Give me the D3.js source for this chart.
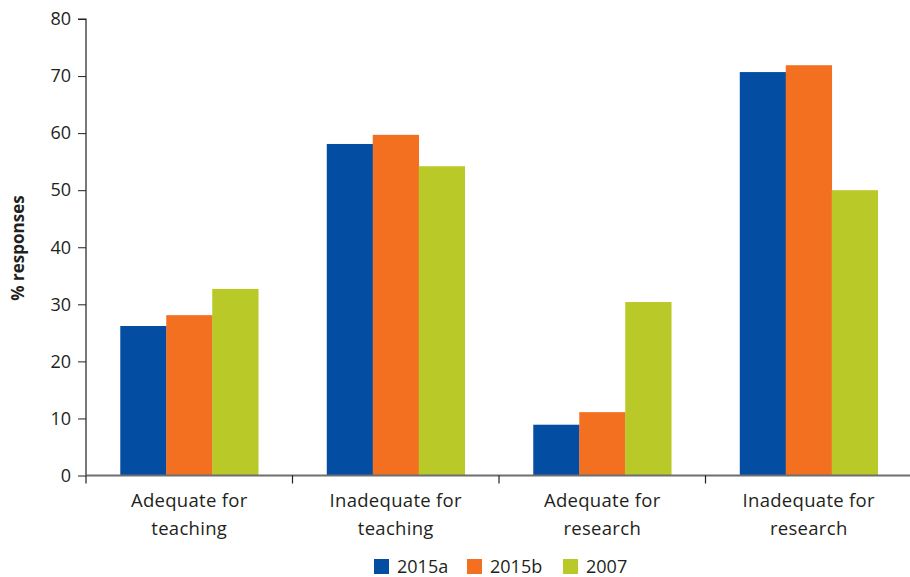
<!DOCTYPE html>
<html><head><meta charset="utf-8">
<script src="https://cdn.jsdelivr.net/npm/d3@7"></script>
<style>body{margin:0;background:#fff}svg{display:block}text{font-family:"Open Sans",sans-serif;fill:#231f20}</style>
</head><body><svg id="c" width="910" height="577"></svg>
<script>
const categories = [["Adequate for","teaching"],["Inadequate for","teaching"],["Adequate for","research"],["Inadequate for","research"]];
const seriesNames = ["2015a","2015b","2007"];
const s2015a = [26.2, 58.1, 8.9, 70.7];
const s2015b = [28.1, 59.7, 11.1, 71.9];
const s2007 = [32.7, 54.2, 30.4, 50.0];
const yTicks = [0,10,20,30,40,50,60,70,80];
const colors = ["#034ea2","#f37021","#b9ca28"];
const series = [s2015a, s2015b, s2007];

(function(){
const svg = d3.select("#c");
const mLeft = 86, mRight = 912, mTop = 19, mBottom = 475.5;
const x0 = d3.scaleBand().domain(d3.range(categories.length)).range([mLeft, mRight]).padding(0);
const x1 = d3.scaleBand().domain(d3.range(series.length)).range([x0.bandwidth()*0.166, x0.bandwidth()*0.834]).padding(0);
const y = d3.scaleLinear().domain([0,80]).range([mBottom, mTop]);

categories.forEach((c,i)=>{
  series.forEach((s,j)=>{
    svg.append("rect").attr("x", x0(i)+x1(j)).attr("width", x1.bandwidth()+0.3)
      .attr("y", y(s[i])).attr("height", y(0)-y(s[i])).attr("fill", colors[j]);
  });
});

const ya = svg.append("g").attr("transform",`translate(${mLeft},0)`)
  .call(d3.axisLeft(y).tickValues(yTicks).tickSize(8).tickPadding(7));
ya.select(".domain").attr("stroke","#231f20").attr("stroke-width",1.2).attr("d",`M-8,${y(80)}H0V${mBottom}`);
ya.selectAll(".tick line").attr("stroke","#231f20");
ya.selectAll(".tick text").attr("font-size",18).attr("font-family","Open Sans, sans-serif").attr("fill","#231f20");

svg.append("line").attr("x1",mLeft).attr("x2",910).attr("y1",mBottom).attr("y2",mBottom).attr("stroke","#6d6e71").attr("stroke-width",2);
d3.range(categories.length).map(i=>x0(i)).forEach(b=>svg.append("line").attr("x1",b).attr("x2",b).attr("y1",mBottom).attr("y2",mBottom+8).attr("stroke","#231f20").attr("stroke-width",1.2));

categories.forEach((c,i)=>{
  const cx = x0(i)+x0.bandwidth()/2;
  const t = svg.append("text").attr("text-anchor","middle").attr("font-size",18.5).attr("letter-spacing","0.3").attr("y", 507);
  t.append("tspan").attr("x", cx).text(c[0]);
  t.append("tspan").attr("x", cx).attr("dy",28).text(c[1]);
});

svg.append("text").attr("transform","translate(24,248) rotate(-90)").attr("text-anchor","middle")
  .attr("font-size",17).attr("font-weight","bold").text("% responses");

const legX = [374, 467, 563];
seriesNames.forEach((n,j)=>{
  svg.append("rect").attr("x",legX[j]).attr("y",559).attr("width",15).attr("height",15).attr("fill",colors[j]);
  svg.append("text").attr("x",legX[j]+23).attr("y",573).attr("font-size",18).text(n);
});
})();
</script></body></html>
